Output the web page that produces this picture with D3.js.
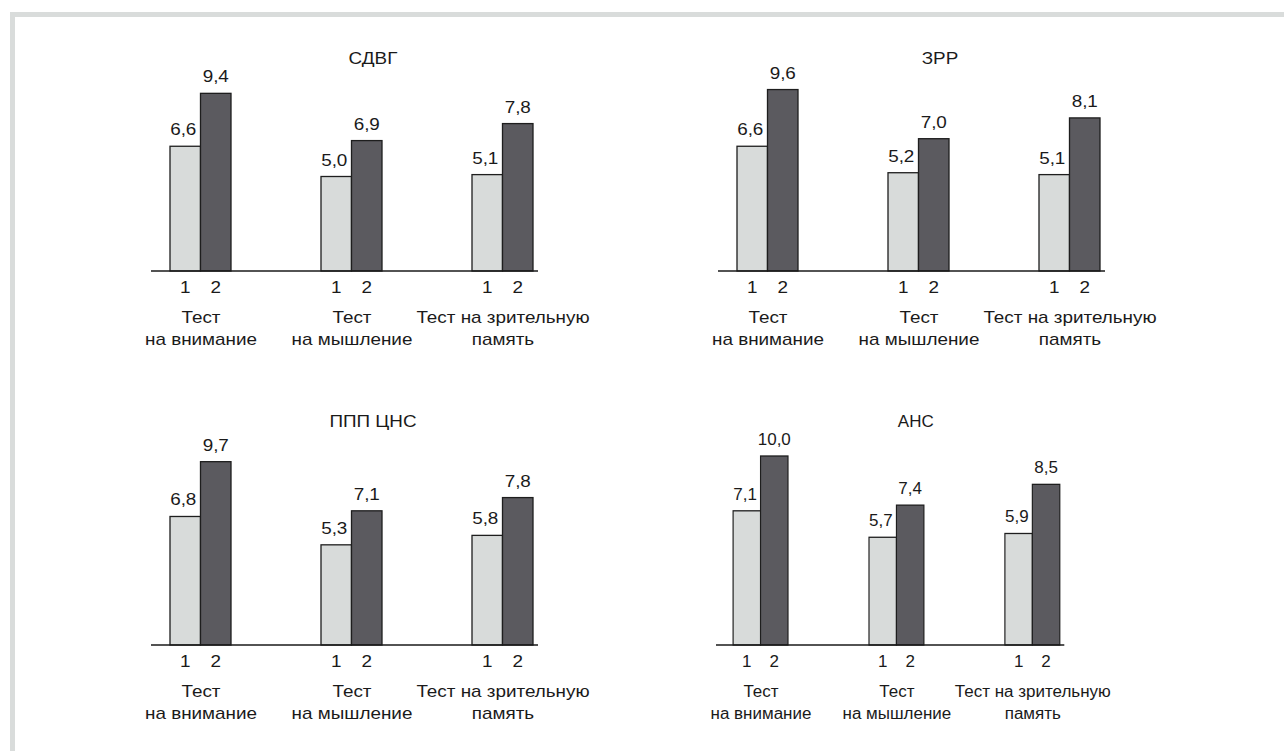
<!DOCTYPE html>
<html>
<head>
<meta charset="utf-8">
<script src="https://cdn.jsdelivr.net/npm/d3@7"></script>
<style>
  html, body { margin: 0; padding: 0; background: #fff; }
  svg text { font-family: "Liberation Sans", Arial, Helvetica, sans-serif; fill: #1a1a1a; }
</style>
</head>
<body>
<svg id="chart" width="1284" height="751"></svg>
<script>
// ---- data ----
const panelTitles = ["СДВГ", "ЗРР", "ППП ЦНС", "АНС"];
const categories = [["Тест", "на внимание"], ["Тест", "на мышление"], ["Тест на зрительную", "память"]];
const seriesKeys = ["1", "2"];
const series1 = [[6.6, 5.0, 5.1], [6.6, 5.2, 5.1], [6.8, 5.3, 5.8], [7.1, 5.7, 5.9]];
const series2 = [[9.4, 6.9, 7.8], [9.6, 7.0, 8.1], [9.7, 7.1, 7.8], [10.0, 7.4, 8.5]];
const yDomain = [0, 10];

// ---- layout ----
const layouts = [
  { x0: 151, axisY: 271, sx: 1.0, titleDy: -207 },
  { x0: 718, axisY: 271, sx: 1.0, titleDy: -207 },
  { x0: 151, axisY: 645, sx: 1.0, titleDy: -218 },
  { x0: 716, axisY: 645, sx: 0.9, titleDy: -218 }
];
const axisLen = 387, plotH = 189;
const textStretch = 1.18;
const fmt = v => d3.format(".1f")(v).replace(".", ",");
const colors = { "1": "#d8dbda", "2": "#5b5a5f" };

const svg = d3.select("#chart");
svg.append("rect").attr("x", 0).attr("y", 0).attr("width", 1284).attr("height", 751).attr("fill", "#fff");
// frame
svg.append("rect").attr("x", 10).attr("y", 12).attr("width", 1274).attr("height", 5).attr("fill", "#d9dcdb");
svg.append("rect").attr("x", 10).attr("y", 12).attr("width", 5).attr("height", 739).attr("fill", "#d9dcdb");

function label(parent, x, y, lines, cls) {
  const gg = parent.append("g").attr("class", cls || "lbl")
    .attr("transform", `translate(${x},${y}) scale(${textStretch},1)`);
  const t = gg.append("text").attr("text-anchor", "middle").attr("font-size", 16);
  [].concat(lines).forEach((line, li) => {
    t.append("tspan").attr("x", 0).attr("y", li * 22).text(line);
  });
  return gg;
}

panelTitles.forEach((title, pi) => {
  const L = layouts[pi];
  const g = svg.append("g").attr("transform", `translate(${L.x0},${L.axisY}) scale(${L.sx},1)`);
  const x0 = d3.scaleBand().domain(d3.range(3)).range([19, 19 + 151 * 3]);
  const x1 = d3.scaleBand().domain(seriesKeys).range([0, 61]);
  const y = d3.scaleLinear().domain(yDomain).range([0, -plotH]);

  const rows = categories.map((c, i) => ({ i, vals: [series1[pi][i], series2[pi][i]] }));
  const grp = g.selectAll("g.grp").data(rows).join("g")
    .attr("class", "grp")
    .attr("transform", d => `translate(${x0(d.i)},0)`);

  grp.each(function(d) {
    const gs = d3.select(this);
    const items = d.vals.map((v, k) => ({ k: seriesKeys[k], v }));
    gs.selectAll("rect").data(items).join("rect")
      .attr("x", e => x1(e.k))
      .attr("y", e => y(e.v))
      .attr("width", x1.bandwidth())
      .attr("height", e => -y(e.v))
      .attr("fill", e => colors[e.k])
      .attr("stroke", "#1e1e1e")
      .attr("stroke-width", 1.3);
    items.forEach(e => {
      label(gs, x1(e.k) + x1.bandwidth() / 2 - (e.k === "1" ? 2 : 0), y(e.v) - 11, fmt(e.v), "val");
      label(gs, x1(e.k) + x1.bandwidth() / 2, 22, e.k, "tick");
    });
    label(gs, 31, 52, categories[d.i], "cat");
  });

  // axis line
  g.append("line").attr("x1", 0).attr("x2", axisLen).attr("y1", 0).attr("y2", 0)
    .attr("stroke", "#1a1a1a").attr("stroke-width", 1.5);

  // title
  label(g, 222, L.titleDy, title, "title");
});
</script>
</body>
</html>
